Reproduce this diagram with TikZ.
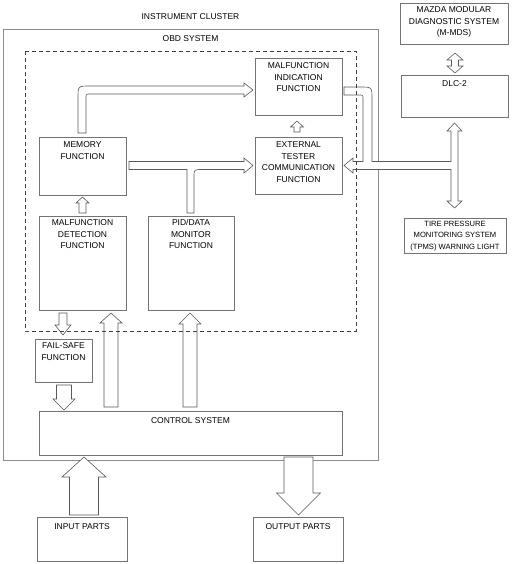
\documentclass[tikz,border=0pt]{standalone}
\usepackage{fontspec}
\setmainfont{Liberation Sans}
\usetikzlibrary{positioning, calc}

% hollow block arrow, straight up or down
\newcommand{\blockv}[6]{%
  \pgfmathsetmacro\arrbase{#3+#6*sign(#2-#3)}
  \draw[blk] (#1-#4,#2) -- (#1-#4,\arrbase) -- (#1-#5,\arrbase) -- (#1,#3)
    -- (#1+#5,\arrbase) -- (#1+#4,\arrbase) -- (#1+#4,#2) -- cycle;}

\begin{document}
\begin{tikzpicture}[x=1pt, y=-1pt,
  box/.style={draw=black!55, line width=0.8pt, inner sep=0pt},
  txt/.style={align=center, inner sep=0pt, font=\fontsize{8.5}{11.5}\selectfont},
  small/.style={align=center, inner sep=0pt, font=\fontsize{7.6}{11.5}\selectfont},
  blk/.style={draw=black!65, fill=white, line width=0.6pt, line join=miter}]
\useasboundingbox (0,0) rectangle (511,564);

% frames
\draw[black!45, line width=0.9pt] (3,29) rectangle (378,460);
\node[txt] (ic-t) at (190.5,17) {INSTRUMENT CLUSTER};
\node[txt] (obd-t) at (190.5,39) {OBD SYSTEM};

% boxes
\node[box, minimum width=87pt, minimum height=57pt] (mif) at (298.5,86.5) {};
\node[box, minimum width=87pt, minimum height=57pt] (etc) at (298.5,165.5) {};
\node[box, minimum width=87pt, minimum height=58pt] (mem) at (82.5,166) {};
\node[box, minimum width=87pt, minimum height=94pt] (md) at (82.5,263) {};
\node[box, minimum width=86pt, minimum height=94pt] (pid) at (191,263) {};
\node[box, minimum width=57pt, minimum height=43pt] (fs) at (63.5,360.5) {};
\node[box, minimum width=303pt, minimum height=44pt] (cs) at (190.5,433) {};
\node[box, minimum width=90pt, minimum height=44pt] (in) at (82,539) {};
\node[box, minimum width=90pt, minimum height=44pt] (out) at (298,539) {};
\node[box, minimum width=108pt, minimum height=41pt] (mmds) at (454,23.5) {};
\node[box, minimum width=107pt, minimum height=42pt] (dlc) at (454.5,96) {};
\node[box, minimum width=102pt, minimum height=35pt] (tpms) at (455,235.5) {};

% texts
\node[txt, below=5pt of mif.north] (mif-t) {MALFUNCTION\\INDICATION\\FUNCTION};
\node[txt, below=5pt of etc.north] (etc-t) {EXTERNAL\\TESTER\\COMMUNICATION\\FUNCTION};
\node[txt, below=5pt of mem.north] (mem-t) {MEMORY\\FUNCTION};
\node[txt, below=4pt of md.north] (md-t) {MALFUNCTION\\DETECTION\\FUNCTION};
\node[txt, below=4pt of pid.north] (pid-t) {PID/DATA\\MONITOR\\FUNCTION};
\node[txt, below=4pt of fs.north] (fs-t) {FAIL-SAFE\\FUNCTION};
\node[txt, below=7pt of cs.north] (cs-t) {CONTROL SYSTEM};
\node[txt, below=7pt of in.north] (in-t) {INPUT PARTS};
\node[txt, below=7pt of out.north] (out-t) {OUTPUT PARTS};
\node[txt, below=4pt of mmds.north] (mmds-t) {MAZDA MODULAR\\DIAGNOSTIC SYSTEM\\(M-MDS)};
\node[txt, below=6pt of dlc.north] (dlc-t) {DLC-2};
\node[small, below=3pt of tpms.north] (tpms-t) {TIRE PRESSURE\\MONITORING SYSTEM\\(TPMS) WARNING LIGHT};

% straight arrows
\blockv{82.5}{213}{197}{3.5}{6.5}{6}
\blockv{297}{132}{121}{3}{6.5}{6}
\blockv{63}{313}{335}{4}{8}{10}
\blockv{64}{385}{410}{7.5}{11}{11}
\blockv{111}{407}{313}{7}{11}{10}
\blockv{190}{407}{313}{7}{11}{11}
\blockv{84}{515}{457}{14.5}{22}{20}
\blockv{298.5}{457}{515}{14.5}{22}{22}
\draw[blk] (455,53) -- (463,60) -- (458.5,60) -- (458.5,66) -- (463,66) -- (455,73)
  -- (447,66) -- (451.5,66) -- (451.5,60) -- (447,60) -- cycle;

% memory to indication
\draw[blk] (78,133) -- (78,98) .. controls (78,86) .. (90,86) -- (244,86) -- (244,83)
  -- (253,90) -- (244,97) -- (244,94) -- (90,94) .. controls (86,94) .. (86,98)
  -- (86,133) -- cycle;
% memory and pid to tester
\draw[blk] (129,161.5) -- (244,161.5) -- (244,158) -- (253,165.5) -- (244,173)
  -- (244,169.5) -- (202,169.5) .. controls (194,169.5) .. (194,177.5) -- (194,213)
  -- (187,213) -- (187,169.5) -- (129,169.5) -- cycle;
% dlc, tpms, tester and indication
\draw[blk] (454.5,123) -- (462,131) -- (458,131) -- (458,201) -- (462,201) -- (454.5,208)
  -- (447,201) -- (451,201) -- (451,169.5) -- (353,169.5) -- (353,173) -- (344,165.5)
  -- (353,158) -- (353,161.5) -- (363,161.5) -- (363,99) .. controls (363,95) .. (359,95)
  -- (344,95) -- (344,87) -- (360,87) .. controls (372,87) .. (372,99) -- (372,161.5)
  -- (451,161.5) -- (451,131) -- (447,131) -- cycle;

% obd frame
\draw[black!75, line width=0.5pt, dash pattern=on 4pt off 3pt] (25,51) rectangle (356,331);
\end{tikzpicture}
\end{document}
